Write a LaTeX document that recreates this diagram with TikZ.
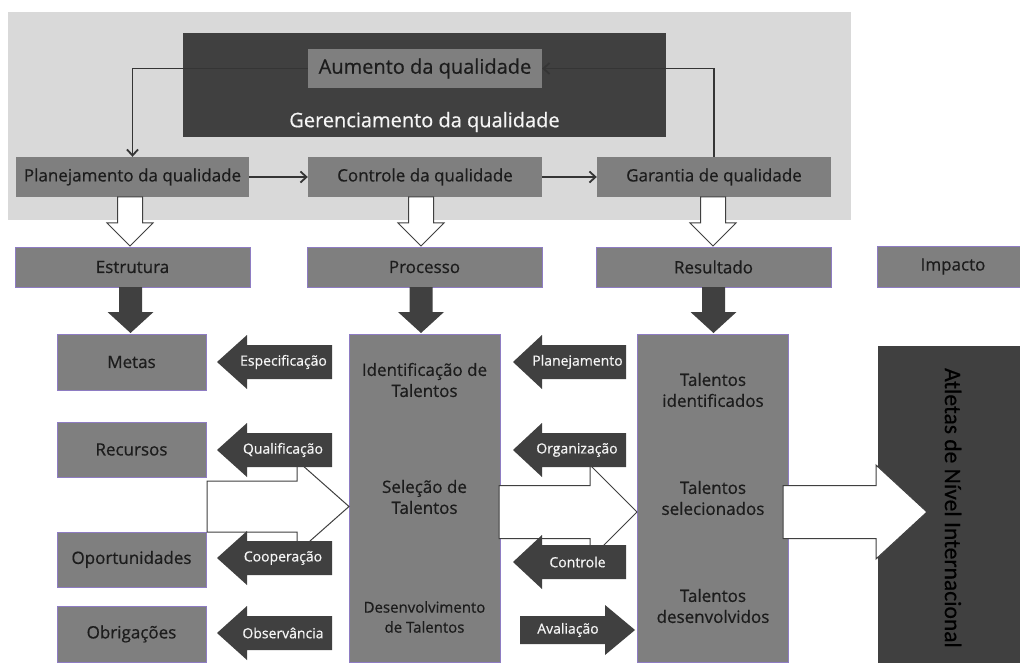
\documentclass[tikz,border=0pt]{standalone}
\usepackage{fontspec}
\setmainfont{Open Sans}[FakeBold=0.6]
\newfontfamily\atlfont{Carlito}[FakeBold=0.4]
\usetikzlibrary{arrows.meta,calc}
\definecolor{bggray}{HTML}{D9D9D9}
\definecolor{dk}{HTML}{404040}
\definecolor{md}{HTML}{7F7F7F}
\definecolor{txt}{HTML}{1C1C1C}
\definecolor{lbl}{HTML}{F5F5F5}
\definecolor{pur}{HTML}{8E7CC3}
\definecolor{ln}{HTML}{353535}
% horizontal block arrow: style, tip x, head base x, end x, centre y, shaft half, head half
\newcommand{\blkh}[7]{\path[#1] (#2,#5) -- (#3,#5-#7) -- (#3,#5-#6) -- (#4,#5-#6) -- (#4,#5+#6) -- (#3,#5+#6) -- (#3,#5+#7) -- cycle;}
% vertical block arrow: style, tip y, head base y, end y, centre x, shaft half, head half
\newcommand{\blkv}[7]{\path[#1] (#5,#2) -- (#5-#7,#3) -- (#5-#6,#3) -- (#5-#6,#4) -- (#5+#6,#4) -- (#5+#6,#3) -- (#5+#7,#3) -- cycle;}
\begin{document}
\begin{tikzpicture}[x=1pt,y=-1pt,
  gbox/.style={fill=md, text=txt, inner sep=0pt, align=center, font=\fontsize{17}{21}\selectfont},
  pbox/.style={gbox, draw=pur, line width=0.8pt},
  inner/.style={text=txt, inner sep=0pt, align=center, font=\fontsize{17}{21}\selectfont},
  darkarrow/.style={fill=dk},
  whitearrow/.style={fill=white, draw=dk, line width=1pt, line join=miter},
  lbltext/.style={text=lbl, inner sep=0pt, font=\fontsize{14}{16}\selectfont},
  conn/.style={draw=ln, line width=1.8pt, -{Straight Barb[length=6pt,width=11pt]}}
]
\clip (0,0) rectangle (1020,663);
\fill[white] (0,0) rectangle (1020,663);
% grey background
\fill[bggray] (8,12) rectangle (851,220);
% management box
\node[fill=dk, minimum width=483pt, minimum height=104pt, inner sep=0pt] (ger) at (424.5,85) {};
\node[text=lbl, inner sep=0pt, font=\fontsize{20}{24}\selectfont] (gertxt) at (424.5,122) {Gerenciamento da qualidade};
\node[gbox, minimum width=234pt, minimum height=39pt, font=\fontsize{20}{24}\selectfont] (aum) at (425,68.5) {Aumento da qualidade};
% row 2
\node[gbox, minimum width=233pt, minimum height=40pt] (plan) at (132.5,177) {Planejamento da qualidade};
\node[gbox, minimum width=234pt, minimum height=40pt] (ctrl) at (425,177) {Controle da qualidade};
\node[gbox, minimum width=234pt, minimum height=40pt] (gar) at (714,177) {Garantia de qualidade};
% connectors
\draw[conn] (aum.west) -| (plan.north);
\draw[conn] (gar.north) |- (aum.east);
\draw[conn] (plan.east) -- (ctrl.west);
\draw[conn] (ctrl.east) -- (gar.west);
% row 3
\node[pbox, minimum width=235pt, minimum height=40pt] (estr) at (132.5,267) {Estrutura};
\node[pbox, minimum width=235pt, minimum height=40pt] (proc) at (424.5,267) {Processo};
\node[pbox, minimum width=235pt, minimum height=40pt] (res) at (713.5,267) {Resultado};
\node[pbox, minimum width=152pt, minimum height=41pt] (imp) at (953,266.5) {Impacto};
% white arrows row2 -> row3
\blkv{whitearrow}{246}{223}{197}{130}{12.5}{23}
\blkv{whitearrow}{246}{223}{197}{421}{12.5}{23}
\blkv{whitearrow}{246}{223}{197}{713}{12.5}{23}
% dark arrows row3 -> row4
\blkv{darkarrow}{333}{312}{287}{130.5}{11.5}{23}
\blkv{darkarrow}{333}{312}{287}{421}{11.5}{23}
\blkv{darkarrow}{333}{312}{287}{713.5}{11.5}{23}
% row 4 left boxes
\node[pbox, minimum width=149pt, minimum height=56pt] (metas) at (131.5,362) {Metas};
\node[pbox, minimum width=149pt, minimum height=55pt] (recu) at (131.5,449.5) {Recursos};
\node[pbox, minimum width=149pt, minimum height=55pt] (opor) at (131.5,559.5) {Oportunidades};
\node[pbox, minimum width=149pt, minimum height=56pt] (obri) at (131.5,634) {Obrigações};
% process and result columns
\node[pbox, minimum width=151pt, minimum height=328pt] (pcol) at (424.5,498) {};
\node[inner] (pid) at (424.5,380) {Identificação de\\Talentos};
\node[inner] (psel) at (424.5,497) {Seleção de\\Talentos};
\node[inner, font=\fontsize{15}{20}\selectfont] (pdes) at (424.5,617) {Desenvolvimento\\de Talentos};
\node[pbox, minimum width=151pt, minimum height=328pt] (rcol) at (712.5,498) {};
\node[inner] (rid) at (713,390) {Talentos\\identificados};
\node[inner] (rsel) at (713,498) {Talentos\\selecionados};
\node[inner] (rdes) at (713,606) {Talentos\\desenvolvidos};
% athletes box
\node[fill=dk, minimum width=152pt, minimum height=324pt, inner sep=0pt] (atl) at (954,508) {};
\node[rotate=-90, text=black, inner sep=0pt, font=\atlfont\fontsize{23.5}{28}\selectfont] (atltxt) at (953,508) {Atletas de Nível Internacional};
% big white arrows
\blkh{whitearrow}{349}{297}{207}{506.5}{25.5}{46}
\blkh{whitearrow}{637}{590}{499}{512}{26.5}{47}
\blkh{whitearrow}{927}{876}{783}{512}{26.5}{47}
% dark label arrows, left side
\blkh{darkarrow}{217}{247}{332}{362}{17}{27}
\blkh{darkarrow}{217}{247}{332}{450}{17}{27}
\blkh{darkarrow}{217}{247}{332}{558}{17}{27}
\blkh{darkarrow}{217}{247}{332}{633}{17}{27}
\node[lbltext] (lspec) at (283.5,362) {Especificação};
\node[lbltext] (lqual) at (283,450) {Qualificação};
\node[lbltext] (lcoop) at (283,558) {Cooperação};
\node[lbltext] (lobs) at (283,633) {Observância};
% dark label arrows, right side
\blkh{darkarrow}{513}{542}{626}{362}{17}{27}
\blkh{darkarrow}{513}{542}{626}{450}{17}{27}
\blkh{darkarrow}{513}{542}{626}{562}{17}{27}
\blkh{darkarrow}{635}{605}{520}{630}{14}{25}
\node[lbltext] (lplan) at (577.5,362) {Planejamento};
\node[lbltext] (lorg) at (577,450) {Organização};
\node[lbltext] (lctl) at (577.5,562) {Controle};
\node[lbltext] (laval) at (568,630) {Avaliação};
\end{tikzpicture}
\end{document}
